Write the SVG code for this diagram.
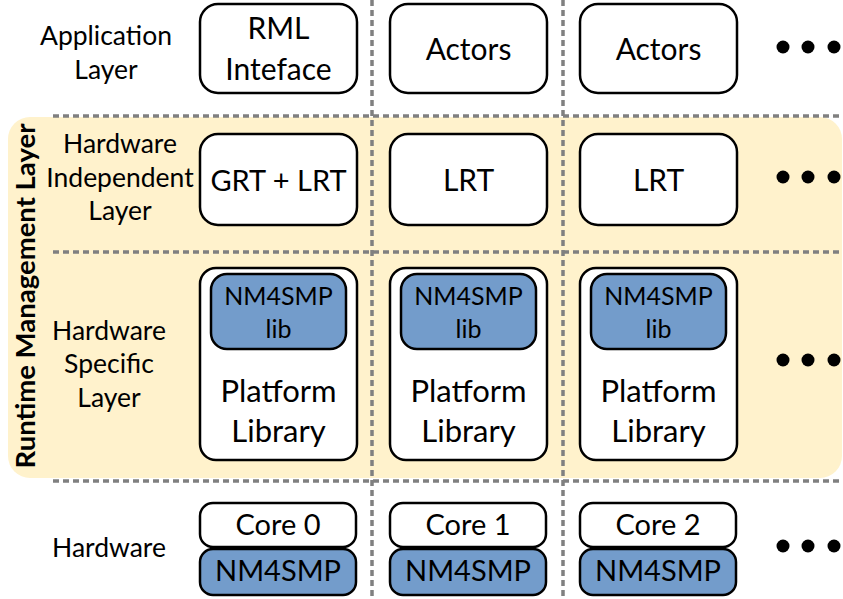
<svg xmlns="http://www.w3.org/2000/svg" width="843" height="599" viewBox="0 0 843 599">
<style>
.lbl{font-family:Lato,"Liberation Sans",sans-serif;font-size:26.5px;fill:#000;text-anchor:middle}
.bt{font-family:Lato,"Liberation Sans",sans-serif;font-size:30px;fill:#000;text-anchor:middle}
.lib{font-family:Lato,"Liberation Sans",sans-serif;font-size:25px;fill:#000;text-anchor:middle}
.core{font-family:Lato,"Liberation Sans",sans-serif;font-size:29px;fill:#000;text-anchor:middle}
.box{fill:#fff;stroke:#000;stroke-width:2.5}
.blue{fill:#739CCB;stroke:#000;stroke-width:2.5}
.sep{stroke:#808080;stroke-width:3.5;stroke-dasharray:6 4;fill:none}
.dot{fill:#000}
</style>
<rect id="rml-band" x="8" y="117" width="834" height="361" rx="22" fill="#FFF2CC"/>
<g id="separators">
<line class="sep" x1="53" y1="116" x2="843" y2="116"/>
<line class="sep" x1="53" y1="252" x2="843" y2="252"/>
<line class="sep" x1="53" y1="481" x2="843" y2="481"/>
<line class="sep" x1="372" y1="0" x2="372" y2="599"/>
<line class="sep" x1="563" y1="0" x2="563" y2="599"/>
</g>
<text id="rml-label" transform="translate(35,296) rotate(-90)" style="font-family:Lato,'Liberation Sans',sans-serif;font-size:27.5px;font-weight:bold;text-anchor:middle">Runtime Management Layer</text>
<g id="label-app"><text class="lbl" x="106" y="45">Application</text><text class="lbl" x="106" y="79">Layer</text></g>
<g id="label-hil"><text class="lbl" x="120" y="153">Hardware</text><text class="lbl" x="120" y="187">Independent</text><text class="lbl" x="120" y="220">Layer</text></g>
<g id="label-hsl"><text class="lbl" x="109" y="340">Hardware</text><text class="lbl" x="109" y="373">Specific</text><text class="lbl" x="109" y="407">Layer</text></g>
<g id="label-hw"><text class="lbl" x="109" y="557">Hardware</text></g>
<g id="rml-interface"><rect class="box" x="200" y="4" width="157" height="89" rx="18"/><text class="bt" x="278.5" y="39">RML</text><text class="bt" x="278.5" y="80">Inteface</text></g>
<g id="actors-1"><rect class="box" x="390" y="4" width="157" height="89" rx="18"/><text class="bt" x="468.5" y="60">Actors</text></g>
<g id="actors-2"><rect class="box" x="580" y="4" width="157" height="89" rx="18"/><text class="bt" x="658.5" y="60">Actors</text></g>
<g id="grt-lrt"><rect class="box" x="200" y="134" width="157" height="91" rx="18"/><text class="bt" x="278.5" y="191" style="font-size:29px">GRT + LRT</text></g>
<g id="lrt-1"><rect class="box" x="390" y="134" width="157" height="91" rx="18"/><text class="bt" x="468.5" y="191">LRT</text></g>
<g id="lrt-2"><rect class="box" x="580" y="134" width="157" height="91" rx="18"/><text class="bt" x="658.5" y="191">LRT</text></g>
<g id="platform-0"><rect class="box" x="200" y="268" width="157" height="192" rx="16"/><rect class="blue" x="211" y="274" width="135" height="75" rx="16"/><text class="lib" x="278.5" y="305">NM4SMP</text><text class="lib" x="278.5" y="338">lib</text><text class="bt" x="278.5" y="402" style="font-size:31px">Platform</text><text class="bt" x="278.5" y="442" style="font-size:31px">Library</text></g>
<g id="platform-1"><rect class="box" x="390" y="268" width="157" height="192" rx="16"/><rect class="blue" x="401" y="274" width="135" height="75" rx="16"/><text class="lib" x="468.5" y="305">NM4SMP</text><text class="lib" x="468.5" y="338">lib</text><text class="bt" x="468.5" y="402" style="font-size:31px">Platform</text><text class="bt" x="468.5" y="442" style="font-size:31px">Library</text></g>
<g id="platform-2"><rect class="box" x="580" y="268" width="157" height="192" rx="16"/><rect class="blue" x="591" y="274" width="135" height="75" rx="16"/><text class="lib" x="658.5" y="305">NM4SMP</text><text class="lib" x="658.5" y="338">lib</text><text class="bt" x="658.5" y="402" style="font-size:31px">Platform</text><text class="bt" x="658.5" y="442" style="font-size:31px">Library</text></g>
<g id="core-0"><rect class="box" x="200" y="503" width="156" height="44" rx="13"/><rect class="blue" x="200" y="549" width="156" height="46" rx="13"/><text class="core" x="278" y="535">Core 0</text><text class="core" x="278" y="581">NM4SMP</text></g>
<g id="core-1"><rect class="box" x="390" y="503" width="156" height="44" rx="13"/><rect class="blue" x="390" y="549" width="156" height="46" rx="13"/><text class="core" x="468" y="535">Core 1</text><text class="core" x="468" y="581">NM4SMP</text></g>
<g id="core-2"><rect class="box" x="580" y="503" width="156" height="44" rx="13"/><rect class="blue" x="580" y="549" width="156" height="46" rx="13"/><text class="core" x="658" y="535">Core 2</text><text class="core" x="658" y="581">NM4SMP</text></g>
<g id="ellipsis">
<circle class="dot" cx="783" cy="47" r="6.5"/><circle class="dot" cx="808" cy="47" r="6.5"/><circle class="dot" cx="834" cy="47" r="6.5"/>
<circle class="dot" cx="783" cy="177" r="6.5"/><circle class="dot" cx="808" cy="177" r="6.5"/><circle class="dot" cx="834" cy="177" r="6.5"/>
<circle class="dot" cx="783" cy="360" r="6.5"/><circle class="dot" cx="808" cy="360" r="6.5"/><circle class="dot" cx="834" cy="360" r="6.5"/>
<circle class="dot" cx="783" cy="546" r="6.5"/><circle class="dot" cx="808" cy="546" r="6.5"/><circle class="dot" cx="834" cy="546" r="6.5"/>
</g>
</svg>
